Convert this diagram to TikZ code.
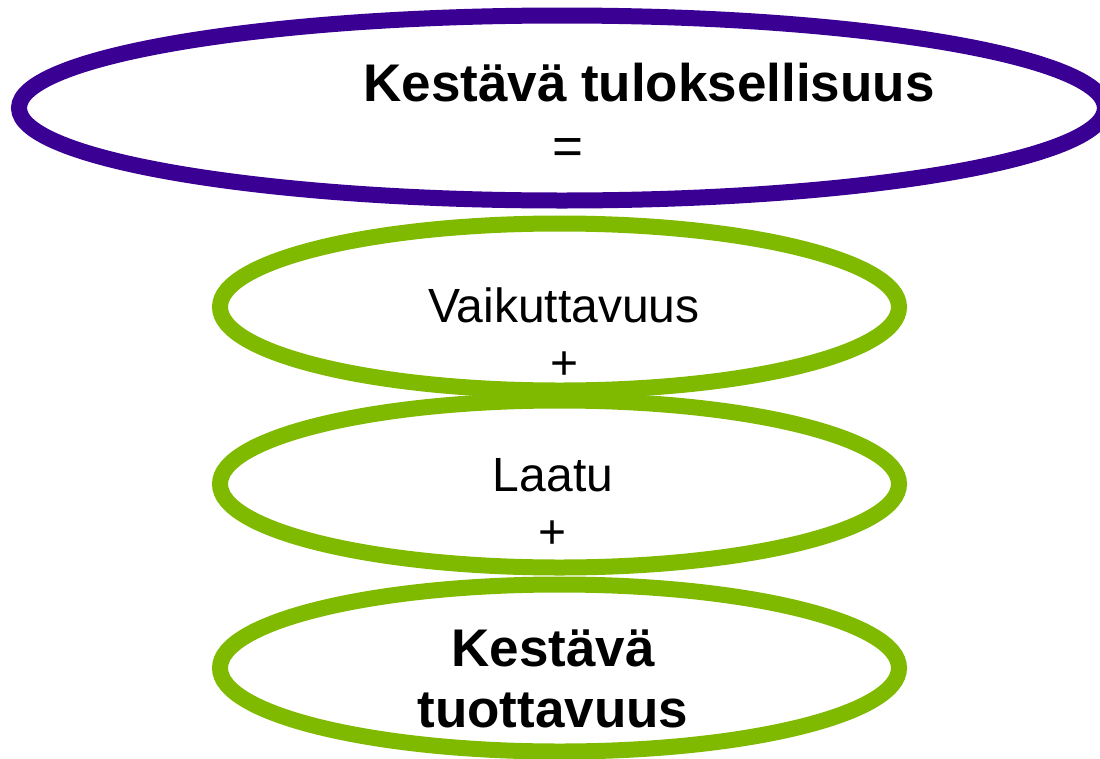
\documentclass[tikz,border=0pt]{standalone}
\usepackage{fontspec}
\setmainfont{Liberation Sans}
\usetikzlibrary{shapes.geometric}
\definecolor{violetline}{RGB}{58,0,148}
\definecolor{greenline}{RGB}{127,186,0}
\tikzset{
  ring/.style={ellipse, draw, line width=16pt, inner sep=0pt, outer sep=0pt},
  purplering/.style={ring, draw=violetline, minimum width=1086pt, minimum height=185pt},
  greenring/.style={ring, draw=greenline, minimum width=679pt, minimum height=167pt},
  boldtxt/.style={font=\fontsize{53}{60}\selectfont\bfseries, inner sep=0pt, anchor=base},
  plaintxt/.style={font=\fontsize{48}{54}\selectfont, inner sep=0pt, anchor=base},
}
\begin{document}
\begin{tikzpicture}[x=1pt,y=-1pt]
\clip (0,0) rectangle (1100,758);
\node[purplering] (top) at (562,108) {};
\node[greenring] (g1) at (559.5,307) {};
\node[greenring] (g2) at (559.5,484) {};
\node[greenring] (g3) at (559.5,668) {};
\node[boldtxt] (title) at (649,101) {Kestävä tuloksellisuus};
\node[plaintxt, font=\fontsize{53}{60}\selectfont] (eq) at (568,164.5) {=};
\node[plaintxt] (vai) at (564,322) {Vaikuttavuus};
\node[plaintxt] (plus1) at (565,379) {+};
\node[plaintxt] (laatu) at (553,491) {Laatu};
\node[plaintxt] (plus2) at (553,548) {+};
\node[boldtxt] (kest) at (553,666) {Kestävä};
\node[boldtxt] (tuot) at (553,727) {tuottavuus};
\end{tikzpicture}
\end{document}
